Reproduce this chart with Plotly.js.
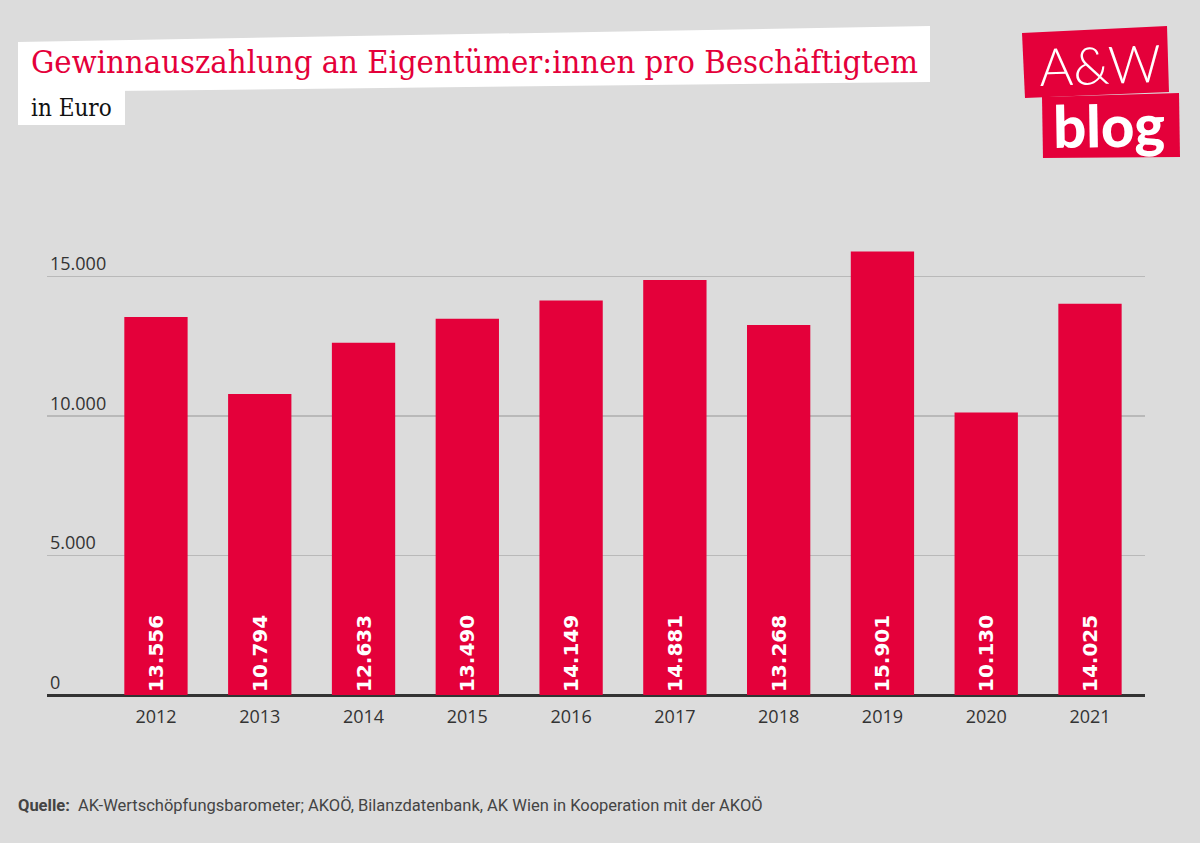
<!DOCTYPE html>
<html>
<head>
<meta charset="utf-8">
<script src="https://cdn.plot.ly/plotly-3.0.1.min.js"></script>
<style>
  html, body { margin: 0; padding: 0; background: #dcdcdc; }
  #chart { width: 1200px; height: 843px; }
</style>
</head>
<body>
<div id="chart"></div>
<script>
// ---- data ----
const years = ["2012", "2013", "2014", "2015", "2016", "2017", "2018", "2019", "2020", "2021"];
const payout = [13556, 10794, 12633, 13490, 14149, 14881, 13268, 15901, 10130, 14025];
const yTicks = [0, 5000, 10000, 15000];

const titleText = "Gewinnauszahlung an Eigentümer:innen pro Beschäftigtem";
const subtitleText = "in Euro";
const sourceText = "<b>Quelle:</b>  AK-Wertschöpfungsbarometer; AKOÖ, Bilanzdatenbank, AK Wien in Kooperation mit der AKOÖ";

// ---- layout geometry (pixels) ----
const W = 1200, H = 843;
const M = { l: 47, r: 55, t: 193, b: 148 };
const PW = W - M.l - M.r, PH = H - M.t - M.b;
const px = x => (x - M.l) / PW;
const py = y => (H - M.b - y) / PH;
const path = pts => "M" + pts.map(p => px(p[0]).toFixed(5) + "," + py(p[1]).toFixed(5)).join(" L") + " Z";

const RED = "#e4003a";
const TXT = "#333333";

const trace = {
  type: "bar",
  x: years,
  y: payout,
  marker: { color: RED, line: { width: 0 } },
  width: 0.61,
  texttemplate: "%{y:,.0f}",
  textposition: "inside",
  insidetextanchor: "start",
  textangle: -90,
  insidetextfont: { family: "DejaVu Sans", size: 20, color: "#ffffff", weight: "bold" },
  hoverinfo: "skip",
  cliponaxis: false
};

const shapes = [
  // title box
  { type: "path", xref: "paper", yref: "paper", layer: "above",
    path: path([[18, 42], [930, 26], [930, 82], [18, 92]]),
    fillcolor: "#ffffff", line: { width: 0 } },
  // subtitle box
  { type: "path", xref: "paper", yref: "paper", layer: "above",
    path: path([[18, 90], [125, 90], [125, 125], [18, 125]]),
    fillcolor: "#ffffff", line: { width: 0 } },
  // logo boxes
  { type: "path", xref: "paper", yref: "paper", layer: "above",
    path: path([[1022, 33], [1167, 26], [1169, 92], [1025, 98]]),
    fillcolor: RED, line: { width: 0 } },
  { type: "path", xref: "paper", yref: "paper", layer: "above",
    path: path([[1042, 97], [1179, 93], [1180, 157], [1043, 158]]),
    fillcolor: RED, line: { width: 0 } }
];

const annotations = [
  { text: titleText, xref: "paper", yref: "paper", x: px(29), y: py(62),
    xanchor: "left", yanchor: "middle", showarrow: false,
    font: { family: "DejaVu Serif Condensed, DejaVu Serif", size: 32.5, color: RED } },
  { text: subtitleText, xref: "paper", yref: "paper", x: px(29), y: py(108),
    xanchor: "left", yanchor: "middle", showarrow: false,
    font: { family: "DejaVu Serif Condensed, DejaVu Serif", size: 24, color: "#111111" } },
  { text: "A&amp;W", xref: "paper", yref: "paper", x: px(1100), y: py(64),
    xanchor: "center", yanchor: "middle", showarrow: false, textangle: -2,
    font: { family: "Lato", size: 52, color: "#ffffff", weight: 300 } },
  { text: "blog", xref: "paper", yref: "paper", x: px(1109), y: py(125),
    xanchor: "center", yanchor: "middle", showarrow: false, textangle: -1,
    font: { family: "Lato", size: 58, color: "#ffffff", weight: 900 } },
  { text: sourceText, xref: "paper", yref: "paper", x: px(16), y: py(805),
    xanchor: "left", yanchor: "middle", showarrow: false,
    font: { family: "Roboto", size: 16.5, color: "#444444" } }
];

const layout = {
  width: W, height: H,
  margin: M,
  paper_bgcolor: "#dcdcdc",
  plot_bgcolor: "#dcdcdc",
  separators: ",.",
  showlegend: false,
  bargap: 0.39,
  xaxis: {
    type: "category",
    range: [-1.05, 9.53],
    showgrid: false, showline: false, zeroline: false, ticks: "",
    tickfont: { family: "Open Sans", size: 18, color: TXT },
    ticklabelstandoff: 9,
    fixedrange: true
  },
  yaxis: {
    range: [0, 18000],
    tickvals: yTicks,
    tickformat: ",.0f",
    ticklabelposition: "inside top",
    tickfont: { family: "Open Sans", size: 18, color: TXT },
    showgrid: true, gridcolor: "#b9b9b9", gridwidth: 1.5,
    zeroline: true, zerolinecolor: "#333333", zerolinewidth: 3,
    showline: false, ticks: "",
    fixedrange: true
  },
  shapes: shapes,
  annotations: annotations
};

Plotly.newPlot("chart", [trace], layout, { displayModeBar: false, staticPlot: true });
</script>
</body>
</html>
